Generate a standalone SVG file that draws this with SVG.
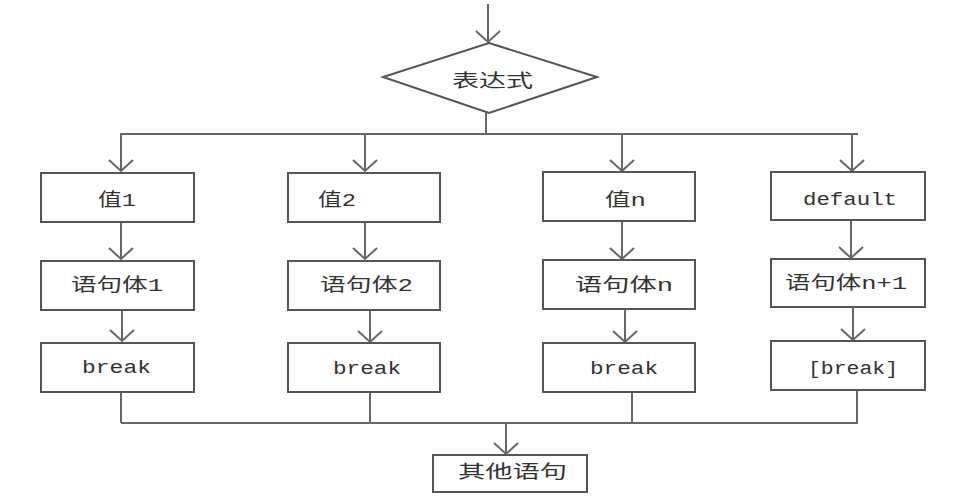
<svg xmlns="http://www.w3.org/2000/svg" width="978" height="504" viewBox="0 0 978 504">
<style>
.box{fill:#fff;stroke:#555;stroke-width:2}
.ln{fill:none;stroke:#666;stroke-width:2}
.t{font-family:"Liberation Mono","Noto Sans CJK SC",monospace;font-size:18px;fill:#333}
</style>
<defs>
<marker id="ah" markerUnits="userSpaceOnUse" markerWidth="30" markerHeight="30" refX="15" refY="15" orient="auto" viewBox="0 0 30 30">
<path d="M4,3 L15,15 L4,27" fill="none" stroke="#666" stroke-width="2"/>
</marker>
</defs>
<rect width="978" height="504" fill="#fff"/>
<g id="connectors">
<line class="ln" x1="488" y1="4" x2="488" y2="42" marker-end="url(#ah)"/>
<line class="ln" x1="486" y1="113" x2="486" y2="134"/>
<line class="ln" x1="120" y1="134" x2="858" y2="134"/>
<line class="ln" x1="121" y1="134" x2="121" y2="171" marker-end="url(#ah)"/>
<line class="ln" x1="365" y1="134" x2="365" y2="171" marker-end="url(#ah)"/>
<line class="ln" x1="622" y1="134" x2="622" y2="171" marker-end="url(#ah)"/>
<line class="ln" x1="852" y1="134" x2="852" y2="171" marker-end="url(#ah)"/>
<line class="ln" x1="121" y1="222" x2="121" y2="259" marker-end="url(#ah)"/>
<line class="ln" x1="365" y1="222" x2="365" y2="259" marker-end="url(#ah)"/>
<line class="ln" x1="622" y1="221" x2="622" y2="259" marker-end="url(#ah)"/>
<line class="ln" x1="851" y1="221" x2="851" y2="258" marker-end="url(#ah)"/>
<line class="ln" x1="122" y1="310" x2="122" y2="341" marker-end="url(#ah)"/>
<line class="ln" x1="370" y1="310" x2="370" y2="342" marker-end="url(#ah)"/>
<line class="ln" x1="625" y1="309" x2="625" y2="342" marker-end="url(#ah)"/>
<line class="ln" x1="853" y1="308" x2="853" y2="340" marker-end="url(#ah)"/>
<line class="ln" x1="121" y1="392" x2="121" y2="423"/>
<line class="ln" x1="370" y1="392" x2="370" y2="423"/>
<line class="ln" x1="632" y1="392" x2="632" y2="423"/>
<line class="ln" x1="857" y1="391" x2="857" y2="423"/>
<line class="ln" x1="121" y1="423" x2="858" y2="423"/>
<line class="ln" x1="506" y1="423" x2="506" y2="454" marker-end="url(#ah)"/>
</g>
<g id="expr">
<polygon class="box" points="489,43 597,77 489,113 383,77"/>
<text class="t" x="452" y="87" textLength="81" lengthAdjust="spacingAndGlyphs">表达式</text>
</g>
<g id="v1"><rect class="box" x="41" y="173" width="153" height="49"/><text class="t" x="98" y="206" textLength="38" lengthAdjust="spacingAndGlyphs">值1</text></g>
<g id="s1"><rect class="box" x="41" y="261" width="153" height="49"/><text class="t" x="71" y="291" textLength="92" lengthAdjust="spacingAndGlyphs">语句体1</text></g>
<g id="b1"><rect class="box" x="41" y="343" width="153" height="49"/><text class="t" x="82" y="373" textLength="69" lengthAdjust="spacingAndGlyphs">break</text></g>
<g id="v2"><rect class="box" x="288" y="173" width="152" height="49"/><text class="t" x="318" y="206" textLength="38" lengthAdjust="spacingAndGlyphs">值2</text></g>
<g id="s2"><rect class="box" x="288" y="261" width="152" height="49"/><text class="t" x="320" y="291" textLength="93" lengthAdjust="spacingAndGlyphs">语句体2</text></g>
<g id="b2"><rect class="box" x="288" y="343" width="152" height="49"/><text class="t" x="333" y="374" textLength="68" lengthAdjust="spacingAndGlyphs">break</text></g>
<g id="vn"><rect class="box" x="543" y="172" width="152" height="49"/><text class="t" x="605" y="206" textLength="41" lengthAdjust="spacingAndGlyphs">值n</text></g>
<g id="sn"><rect class="box" x="543" y="260" width="152" height="49"/><text class="t" x="575" y="291" textLength="98" lengthAdjust="spacingAndGlyphs">语句体n</text></g>
<g id="bn"><rect class="box" x="543" y="343" width="152" height="49"/><text class="t" x="590" y="374" textLength="68" lengthAdjust="spacingAndGlyphs">break</text></g>
<g id="vd"><rect class="box" x="771" y="172" width="154" height="48"/><text class="t" x="803" y="205" textLength="94" lengthAdjust="spacingAndGlyphs">default</text></g>
<g id="sd"><rect class="box" x="771" y="259" width="154" height="48"/><text class="t" x="785" y="289" textLength="122" lengthAdjust="spacingAndGlyphs">语句体n+1</text></g>
<g id="bd"><rect class="box" x="771" y="341" width="154" height="49"/><text class="t" x="808" y="374" textLength="90" lengthAdjust="spacingAndGlyphs">[break]</text></g>
<g id="other"><rect class="box" x="433" y="455" width="154" height="37"/><text class="t" x="458" y="478" textLength="109" lengthAdjust="spacingAndGlyphs">其他语句</text></g>
</svg>
